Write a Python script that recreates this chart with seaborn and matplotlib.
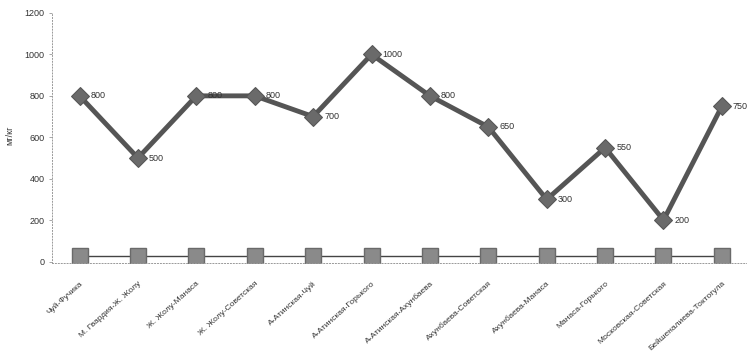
import matplotlib
matplotlib.use("Agg")
import matplotlib.pyplot as plt
import seaborn as sns
import pandas as pd

categories = ["Чуй-Фучика", "М. Гвардия-Ж. Жолу", "Ж. Жолу-Манаса", "Ж. Жолу-Советская",
              "А-Атинская-Чуй", "А-Атинская-Горького", "А-Атинская-Ахунбаева",
              "Ахунбаева-Советская", "Ахунбаева-Манаса", "Манаса-Горького",
              "Московская-Советская", "Бейшеналиева-Токтогула"]
values = [800, 500, 800, 800, 700, 1000, 800, 650, 300, 550, 200, 750]
limit = [25] * 12
yticks = [0, 200, 400, 600, 800, 1000, 1200]

sns.set_theme(style="white")
plt.rcParams['font.family'] = ['Liberation Sans', 'DejaVu Sans']

df = pd.DataFrame({"x": range(len(categories)), "v": values, "l": limit})

fig = plt.figure(figsize=(7.47, 3.51), dpi=100)
ax = fig.add_axes([0.069, 0.25, 0.931, 0.713])

sns.lineplot(data=df, x="x", y="l", ax=ax, color="#444444", lw=1.0,
             marker="s", markersize=11, markerfacecolor="#8a8a8a",
             markeredgecolor="#6a6a6a", markeredgewidth=1.0, zorder=2)
sns.lineplot(data=df, x="x", y="v", ax=ax, color="#555555", lw=3.5,
             marker="D", markersize=9, markerfacecolor="#6a6a6a",
             markeredgecolor="#555555", zorder=3)

for i, v in enumerate(values):
    ax.annotate(str(v), (i, v), xytext=(8, 0), textcoords="offset points",
                fontsize=6.5, va="center", ha="left", color="#333333")

ax.set_xlim(-0.48, 11.43)
ax.set_ylim(-8, 1200)
ax.tick_params(axis="both", length=2, width=0.6, color="#999999", pad=3)
ax.tick_params(axis="x", pad=10)
ax.tick_params(axis="y", left=True)
ax.set_yticks(yticks)
ax.set_yticklabels([str(t) for t in yticks], fontsize=6.5, color="#333333")
ax.set_xticks(range(len(categories)))
ax.set_xticklabels(categories, rotation=42, ha="right", rotation_mode="anchor",
                   fontsize=6, color="#333333")
ax.set_xlabel("")
ax.set_ylabel("мг/кг", fontsize=6.5, color="#333333")
ax.yaxis.set_label_coords(-0.053, 0.51)
for s in ["top", "right"]:
    ax.spines[s].set_visible(False)
for s in ["left", "bottom"]:
    ax.spines[s].set_linestyle((0, (1, 2)))
    ax.spines[s].set_color("#999999")
    ax.spines[s].set_linewidth(0.7)

fig.savefig("out.png", dpi=100, facecolor="white")
